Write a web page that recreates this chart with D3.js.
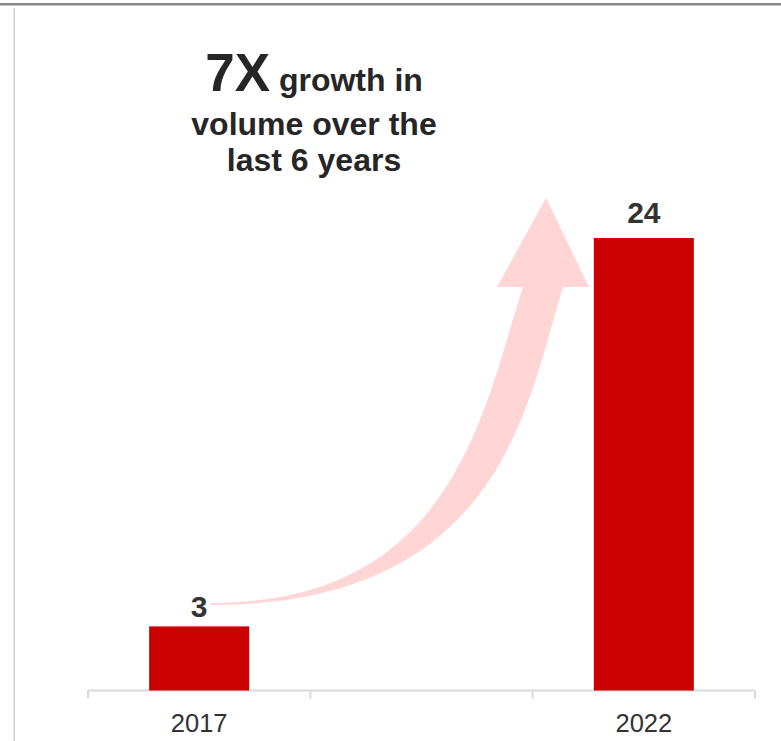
<!DOCTYPE html>
<html>
<head>
<meta charset="utf-8">
<script src="https://cdn.jsdelivr.net/npm/d3@7"></script>
<style>
  html, body { margin: 0; padding: 0; background: #ffffff; }
  svg { display: block; font-family: "Liberation Sans", Arial, sans-serif; }
</style>
</head>
<body>
<div id="chart"></div>
<script>
// ---- data ----
const categories = ["2017", "", "2022"];
const values = [3.4, null, 24];
const valueLabels = ["3", "", "24"];
const titleBig = "7X";
const titleLines = [" growth in", "volume over the", "last 6 years"];

// ---- layout ----
const W = 781, H = 741;
const svg = d3.select("#chart").append("svg").attr("width", W).attr("height", H);

const x = d3.scaleBand().domain(categories).range([88, 755]).paddingInner(0).paddingOuter(0);
const y = d3.scaleLinear().domain([0, 24]).range([690.5, 238]);
const barW = x.bandwidth() * 0.45;

// frame lines
svg.append("line").attr("x1", 0).attr("x2", W).attr("y1", 4.3).attr("y2", 4.3)
  .attr("stroke", "#8a8a8a").attr("stroke-width", 2.6);
svg.append("line").attr("x1", 14.2).attr("x2", 14.2).attr("y1", 8).attr("y2", H)
  .attr("stroke", "#d3d3d3").attr("stroke-width", 1.6);

// axis
const axisG = svg.append("g");
axisG.append("line").attr("x1", x.range()[0]).attr("x2", x.range()[1])
  .attr("y1", y(0)).attr("y2", y(0)).attr("stroke", "#d9d9d9").attr("stroke-width", 2);
const bounds = categories.map(c => x(c)).concat([x.range()[1]]);
axisG.selectAll("line.tick").data(bounds).join("line").attr("class", "tick")
  .attr("x1", d => d).attr("x2", d => d).attr("y1", y(0)).attr("y2", y(0) + 8)
  .attr("stroke", "#d9d9d9").attr("stroke-width", 2);
axisG.selectAll("text").data(categories.filter(c => c !== "")).join("text")
  .attr("x", d => x(d) + x.bandwidth() / 2).attr("y", 731.5)
  .attr("text-anchor", "middle").attr("font-size", 25.5).attr("fill", "#333")
  .text(d => d);

// arrow (annotation): two smooth cubic edges + arrowhead
const p = d3.path();
p.moveTo(211, 605);
p.bezierCurveTo(501, 605, 527, 405, 563, 287);
p.lineTo(589, 287);
p.lineTo(546, 198);
p.lineTo(497, 287);
p.lineTo(523, 287);
p.bezierCurveTo(483, 410, 455, 603, 211, 603);
p.closePath();
svg.append("path").attr("d", p.toString()).attr("fill", "#ffd5d6");

// bars
const data = categories.map((c, i) => ({ c, v: values[i], label: valueLabels[i] })).filter(d => d.v != null);
svg.selectAll("rect.bar").data(data).join("rect").attr("class", "bar")
  .attr("x", d => x(d.c) + (x.bandwidth() - barW) / 2)
  .attr("y", d => y(d.v))
  .attr("width", barW)
  .attr("height", d => y(0) - y(d.v))
  .attr("fill", "#cc0000");

svg.selectAll("text.val").data(data).join("text").attr("class", "val")
  .attr("x", d => x(d.c) + x.bandwidth() / 2)
  .attr("y", d => y(d.v) - (d.v < 10 ? 9.5 : 15))
  .attr("text-anchor", "middle").attr("font-size", 30).attr("font-weight", "bold")
  .attr("fill", "#333").text(d => d.label);

// title annotation
const tcx = 314;
const t1 = svg.append("text").attr("x", tcx).attr("y", 91).attr("text-anchor", "middle")
  .attr("fill", "#262626").attr("font-weight", "bold");
t1.append("tspan").attr("font-size", 53).text(titleBig);
t1.append("tspan").attr("font-size", 32).text(titleLines[0]);
svg.append("text").attr("x", tcx).attr("y", 135).attr("text-anchor", "middle")
  .attr("fill", "#262626").attr("font-weight", "bold").attr("font-size", 32).text(titleLines[1]);
svg.append("text").attr("x", tcx).attr("y", 170.5).attr("text-anchor", "middle")
  .attr("fill", "#262626").attr("font-weight", "bold").attr("font-size", 32).text(titleLines[2]);
</script>
</body>
</html>
